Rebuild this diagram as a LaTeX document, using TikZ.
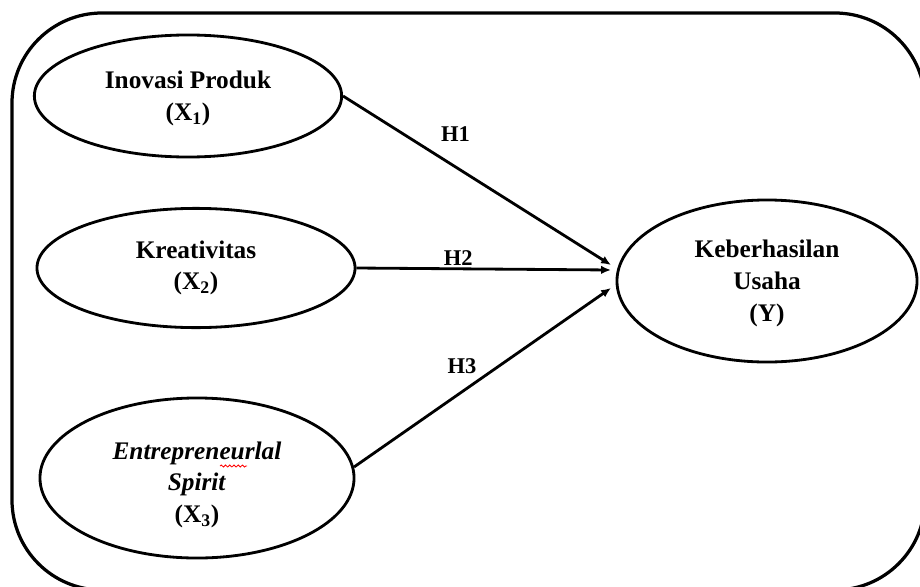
\documentclass[tikz,border=0pt]{standalone}
\usepackage{fontspec}
\setmainfont{Liberation Serif}
\usetikzlibrary{shapes.geometric}
\usetikzlibrary{arrows.meta}
\usetikzlibrary{decorations.pathmorphing}

\begin{document}
\begin{tikzpicture}[x=0.025cm, y=-0.025cm,
    var/.style={draw, ellipse, line width=2pt, inner sep=0pt, align=center,
      font=\fontsize{18}{22.5}\selectfont\bfseries},
    hyp/.style={font=\fontsize{16}{19}\selectfont\bfseries}]
    \useasboundingbox (0,0) rectangle (920,586);
    \draw[line width=2.3pt, rounded corners=2.25cm] (12,13) rectangle (925,590);
    \node[var, minimum width=7.68cm, minimum height=3.05cm] (1) at (188,96) {\rule{0pt}{16pt}Inovasi Produk\\(X\textsubscript{1})};
    \node[var, minimum width=7.95cm, minimum height=2.98cm] (2) at (196,268) {Kreativitas\\(X\textsubscript{2})};
    \node[var, minimum width=7.85cm, minimum height=4.0cm] (3) at (197,478) {\rule{0pt}{22pt}\textit{Entrepreneurlal}\\\textit{Spirit}\\(X\textsubscript{3})};
    \node[var, minimum width=7.5cm, minimum height=4.05cm] (4) at (767,281) {\rule{0pt}{16pt}Keberhasilan\\Usaha\\(Y)};
    \coordinate (t1) at (611,265);
    \coordinate (t2) at (611,270);
    \coordinate (t3) at (611,288);
    % spell-check mark
    \draw[red, line width=0.6pt, decorate, decoration={snake, amplitude=0.7pt, segment length=3pt}] (220,466) -- (247,466);
\begin{scope}[line width=2pt, -{Latex[length=7pt, width=6pt]}]
    \draw (1.east) -- (t1)
      \foreach \p in {H1} {node[hyp, above, pos=0.42, yshift=14pt] (5) {\p}};
    \draw (2.east) -- (t2)
      \foreach \p in {H2} {node[hyp, above, pos=0.4, yshift=-2pt] (6) {\p}};
    \draw (3.4) -- (t3)
      \foreach \p in {H3} {node[hyp, above, pos=0.42, yshift=8.5pt] (7) {\p}};
\end{scope}
\end{tikzpicture}
\end{document}
